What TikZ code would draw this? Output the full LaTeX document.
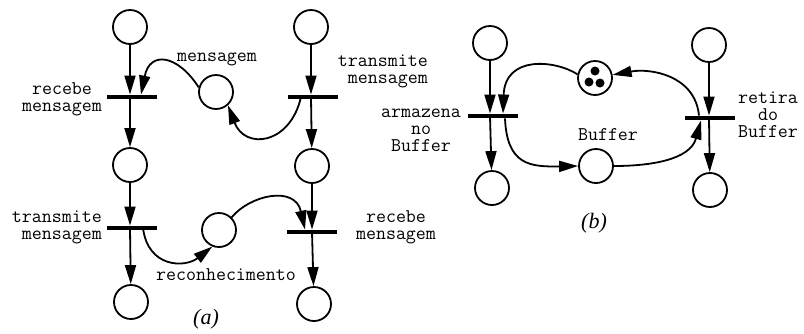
\documentclass[tikz,border=0pt]{standalone}
\usepackage{fontspec}
\newfontfamily\capfont{Liberation Serif}
\usetikzlibrary{arrows.meta}
\begin{document}
\begin{tikzpicture}[x=1pt,y=-1pt,
  place/.style={circle,draw,line width=1.8pt,minimum size=34pt,inner sep=0pt},
  trans/.style={rectangle,fill=black,minimum width=50pt,minimum height=4.5pt,inner sep=0pt},
  lbl/.style={font=\ttfamily\fontsize{19.4}{17}\selectfont,inner sep=0pt},
  figcap/.style={font=\capfont\itshape\fontsize{22}{22}\selectfont,inner sep=0pt},
  pnarc/.style={line width=1.8pt,-{Triangle[length=19pt,width=11pt]}},
  tok/.style={circle,fill=black,minimum size=9pt,inner sep=0pt}]
\useasboundingbox (0,0) rectangle (804,333);

% ---------- (a) ----------
\node[place] (pA1) at (130,27) {};
\node[trans] (tA1) at (132,97) {};
\node[place] (pA2) at (130,165) {};
\node[trans] (tA2) at (132,228) {};
\node[place] (pA3) at (131,302) {};

\node[place] (pB1) at (311,27) {};
\node[trans] (tB1) at (313,97) {};
\node[place] (pB2) at (312,166) {};
\node[trans] (tB2) at (312,232) {};
\node[place] (pB3) at (314,304) {};

\node[place] (pM) at (216,92) {};
\node[place] (pR) at (219,230) {};

\draw[pnarc] (pA1) -- (pA1 |- tA1.north);
\draw[pnarc] (tA1.center -| pA1) -- (pA2);
\draw[pnarc] (pA2) -- (pA2 |- tA2.north);
\draw[pnarc] (tA2.center -| pA2) -- (pA3);

\draw[pnarc] (pB1) -- (pB1 |- tB1.north);
\draw[pnarc] (tB1.center -| pB1) -- (pB2);
\draw[pnarc] (pB2) -- (pB2 |- tB2.north);
\draw[pnarc] (tB2.center -| pB2) -- (pB3);

\draw[pnarc] (pM.165) .. controls (178,55) and (150,50) .. ([xshift=9pt]tA1.north);
\draw[pnarc] ([xshift=-12pt]tB1.center) .. controls (290,145) and (245,150) .. (pM.-48);
\draw[pnarc] ([xshift=11pt]tA2.center) .. controls (148,268) and (185,268) .. (pR.-112);
\draw[pnarc] (pR.45) .. controls (250,195) and (295,185) .. ([xshift=-7pt]tB2.north);

\node[lbl] (lM) at (217,59) {mensagem};
\node[lbl,align=center] (l1) at (62,99) {recebe\\mensagem};
\node[lbl,align=right,anchor=east] (l2) at (428,71) {transmite\\mensagem};
\node[lbl,align=right,anchor=east] (l3) at (102,227) {transmite\\mensagem};
\node[lbl,align=center] (l4) at (396,227) {recebe\\mensagem};
\node[lbl] (lR) at (226,275) {reconhecimento};
\node[figcap] (ca) at (206,319) {(a)};

% ---------- (b) ----------
\node[place] (pC1) at (490,43) {};
\node[trans] (tC1) at (493,116) {};
\node[place] (pC2) at (492,188) {};

\node[place] (pD1) at (709,45) {};
\node[trans] (tD1) at (710,118) {};
\node[place] (pD2) at (710,190) {};

\node[place] (pT) at (595,78) {};
\node[tok] (d1) at (595,71) {};
\node[tok] (d2) at (589,82) {};
\node[tok] (d3) at (600,83) {};
\node[place] (pBuf) at (596,166) {};

\draw[pnarc] (pC1) -- (pC1 |- tC1.north);
\draw[pnarc] (tC1.center -| pC1) -- (pC2);
\draw[pnarc] (pD1) -- (pD1 |- tD1.north);
\draw[pnarc] (tD1.center -| pD1) -- (pD2);

\draw[pnarc] (pT.168) .. controls (555,60) and (505,55) .. ([xshift=10pt]tC1.north);
\draw[pnarc] ([xshift=-11pt]tD1.north) .. controls (695,75) and (650,68) .. (pT.10);
\draw[pnarc] ([xshift=12pt]tC1.south) .. controls (507,165) and (530,167) .. (pBuf.west);
\draw[pnarc] (pBuf.east) .. controls (650,166) and (690,160) .. ([xshift=-9pt]tD1.south);

\node[lbl,align=center] (l5) at (421,130) {armazena\\no\\Buffer};
\node[lbl] (l6) at (608,135) {Buffer};
\node[lbl,align=center] (l7) at (768,115) {retira\\do\\Buffer};
\node[figcap] (cb) at (594,223) {(b)};
\end{tikzpicture}
\end{document}
